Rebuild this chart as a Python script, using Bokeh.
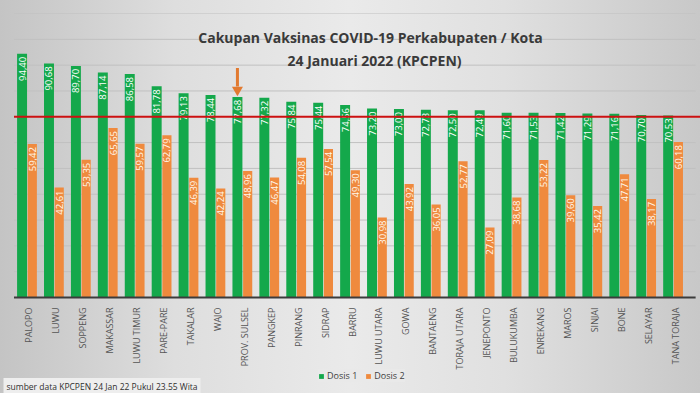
import math
from bokeh.plotting import figure
from bokeh.models import (ColumnDataSource, FactorRange, Range1d, Label,
                          Legend, LegendItem)
from bokeh.transform import dodge
from bokeh.core.properties import value
from bokeh.embed import file_html
from bokeh.resources import INLINE

categories = ["PALOPO", "LUWU", "SOPPENG", "MAKASSAR", "LUWU TIMUR", "PARE-PARE",
              "TAKALAR", "WAJO", "PROV. SULSEL", "PANGKEP", "PINRANG", "SIDRAP",
              "BARRU", "LUWU UTARA", "GOWA", "BANTAENG", "TORAJA UTARA", "JENEPONTO",
              "BULUKUMBA", "ENREKANG", "MAROS", "SINJAI", "BONE", "SELAYAR", "TANA TORAJA"]
dosis1 = [94.40, 90.68, 89.70, 87.14, 86.58, 81.78, 79.13, 78.44, 77.68, 77.32,
          75.84, 75.44, 74.56, 73.20, 73.00, 72.73, 72.50, 72.49, 71.60, 71.53,
          71.42, 71.29, 71.16, 70.70, 70.53]
dosis2 = [59.42, 42.61, 53.35, 65.65, 59.57, 62.79, 46.39, 42.24, 48.96, 46.47,
          54.08, 57.54, 49.30, 30.98, 43.92, 36.05, 52.77, 27.09, 38.68, 53.22,
          39.60, 35.42, 47.71, 38.17, 60.18]
series_names = ["Dosis 1", "Dosis 2"]
grid_values = [10, 20, 30, 40, 50, 60, 80, 90, 100, 110]
target = 70
highlight = "PROV. SULSEL"
title_lines = ["Cakupan Vaksinas COVID-19 Perkabupaten / Kota", "24 Januari 2022 (KPCPEN)"]
source_note = "sumber data KPCPEN 24 Jan 22 Pukul 23.55 Wita"

GREEN = "#14a84b"
ORANGE = "#ef8a3e"
ARROW = "#e27a30"
FONT = "Open Sans"


def fmt(v):
    return f"{v:.2f}".replace(".", ",")


src = ColumnDataSource(dict(cat=categories, d1=dosis1, d2=dosis2,
                            l1=[fmt(v) for v in dosis1],
                            l2=[fmt(v) for v in dosis2]))

xr = FactorRange(*categories, range_padding=0.0401)
p = figure(x_range=xr, y_range=Range1d(-37.2, 110),
           width=700, height=393, output_backend="svg", toolbar_location=None,
           min_border_left=0, min_border_right=0, min_border_top=13,
           min_border_bottom=0)
p.styles = {"background": "linear-gradient(to right, #c4c4c4 0%, #dedede 25%, #eaeaea 50%, #e0e0e0 72%, #c8c8c8 100%)"}
p.background_fill_color = None
p.border_fill_color = None
p.outline_line_color = None
p.xaxis.visible = False
p.yaxis.visible = False
p.xgrid.grid_line_color = None
p.ygrid.grid_line_color = None

# horizontal grid lines
grid_src = ColumnDataSource(dict(y=grid_values, c0=[categories[0]] * len(grid_values),
                                 c1=[categories[-1]] * len(grid_values)))
p.segment(x0=dodge("c0", -0.5, range=xr), y0="y", x1=dodge("c1", 0.82, range=xr),
          y1="y", source=grid_src, line_color="#c0c0c0", line_width=1)

r1 = p.vbar(x=dodge("cat", -0.2, range=xr), top="d1", width=0.37,
            source=src, fill_color=GREEN, line_color=None)
r2 = p.vbar(x=dodge("cat", 0.18, range=xr), top="d2", width=0.34,
            source=src, fill_color=ORANGE, line_color=None)

p.text(x=dodge("cat", -0.2, range=xr), y="d1", text="l1", source=src,
       angle=math.pi / 2, text_align="right", text_baseline="middle", y_offset=3,
       text_color="white", text_font=value(FONT), text_font_size="9.5px")
p.text(x=dodge("cat", 0.18, range=xr), y="d2", text="l2", source=src,
       angle=math.pi / 2, text_align="right", text_baseline="middle", y_offset=3,
       text_color="#fff8ec", text_font=value(FONT), text_font_size="9.5px")

# baseline and target line
ends = ColumnDataSource(dict(c0=[categories[0]], c1=[categories[-1]], y=[0], t=[target]))
p.segment(x0=dodge("c0", -0.5, range=xr), y0="y", x1=dodge("c1", 0.82, range=xr),
          y1="y", source=ends, line_color="#3c3c3c", line_width=2)
p.segment(x0=dodge("c0", -0.5, range=xr), y0="t", x1=dodge("c1", 1.0, range=xr),
          y1="t", source=ends, line_color="#cc1111", line_width=2)

# category labels
p.text(x="cat", y=0, text="cat", source=src, angle=math.pi / 2,
       text_align="right", text_baseline="middle", x_offset=1.5, y_offset=10,
       text_color="#555555", text_font=value(FONT), text_font_size="9px")

# arrow pointing at highlight
hv = dosis1[categories.index(highlight)]
arr = ColumnDataSource(dict(cat=[highlight], y0=[hv + 11.2], y1=[hv + 4.0],
                            yh=[hv + 2.7]))
p.segment(x0=dodge("cat", -0.2, range=xr), y0="y0",
          x1=dodge("cat", -0.2, range=xr), y1="y1", source=arr,
          line_width=3, line_color=ARROW)
p.scatter(x=dodge("cat", -0.2, range=xr), y="yh", source=arr,
          marker="inverted_triangle", size=11, fill_color=ARROW, line_color=None)

p.add_layout(Label(x=370, y=356, x_units="screen", y_units="screen",
                   text=title_lines[0], text_align="center", text_baseline="middle",
                   text_font=FONT, text_font_size="14px", text_font_style="bold",
                   text_color="#3a3a3a"))
p.add_layout(Label(x=374, y=333, x_units="screen", y_units="screen",
                   text=title_lines[1], text_align="center", text_baseline="middle",
                   text_font=FONT, text_font_size="14px", text_font_style="bold",
                   text_color="#3a3a3a"))

legend = Legend(items=[LegendItem(label=series_names[0], renderers=[r1]),
                       LegendItem(label=series_names[1], renderers=[r2])],
                orientation="horizontal", location=(318, 11),
                label_text_font=FONT, label_text_font_size="9px",
                label_text_color="#404040", glyph_width=6, glyph_height=6,
                label_height=10, label_standoff=3, spacing=8, padding=3,
                margin=0, background_fill_color="#e9e9e9",
                border_line_color=None)
p.add_layout(legend, "center")

p.add_layout(Label(x=3, y=7, x_units="screen", y_units="screen",
                   text=source_note, text_align="left", text_baseline="middle",
                   text_font=FONT, text_font_size="8.5px", text_color="#303030",
                   background_fill_color="#eeeeee", padding=3))

open("out.html", "w").write(file_html(p, INLINE))
